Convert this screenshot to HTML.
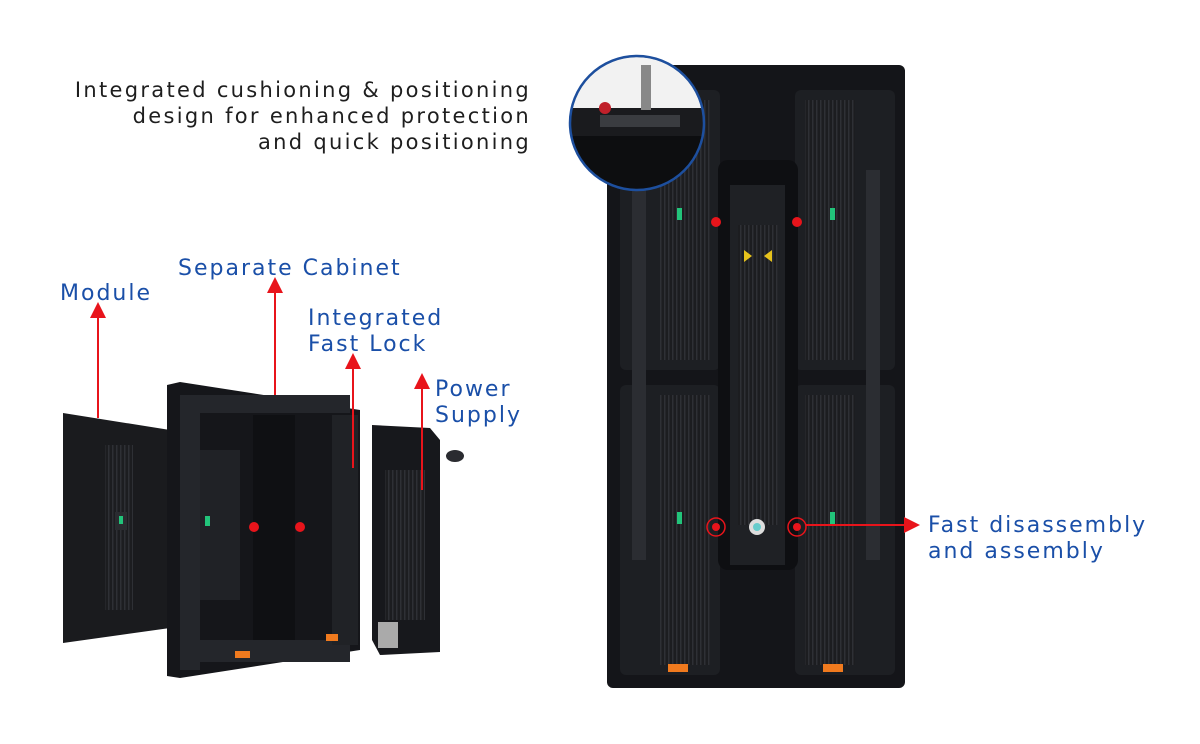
<!DOCTYPE html>
<html><head><meta charset="utf-8"><style>
html,body{margin:0;padding:0;background:#fff;}
svg{display:block}
text{font-family:"DejaVu Sans","Liberation Sans",sans-serif;}
.t{font-size:21px;fill:#1e1e1e;letter-spacing:2.3px}
.b{font-size:22px;fill:#1a4fa8;letter-spacing:2px}
</style></head><body>
<svg width="1200" height="744" viewBox="0 0 1200 744" xmlns="http://www.w3.org/2000/svg">
<defs>
<marker id="ar" markerWidth="8" markerHeight="8" refX="4" refY="4" orient="auto"><path d="M0,0 L8,4 L0,8 z" fill="#e8141b"/></marker>
<pattern id="rib" width="4" height="4" patternUnits="userSpaceOnUse"><rect width="4" height="4" fill="#1c1d20"/><rect width="1.5" height="4" fill="#2e3035"/></pattern>
<clipPath id="cc"><circle cx="637" cy="123" r="66"/></clipPath>
</defs>
<text class="t" x="531" y="97" text-anchor="end">Integrated cushioning &amp; positioning</text>
<text class="t" x="531" y="123" text-anchor="end">design for enhanced protection</text>
<text class="t" x="531" y="149" text-anchor="end">and quick positioning</text>

<!-- left assembly -->
<polygon points="63,413 170,430 170,628 63,643" fill="#1a1b1e"/>
<rect x="105" y="445" width="28" height="165" fill="url(#rib)"/>
<rect x="115" y="512" width="12" height="18" fill="#2a2c30"/><rect x="119" y="516" width="4" height="8" fill="#22c47a"/>
<polygon points="167,385 180,382 360,410 360,650 180,678 167,676" fill="#15161a"/>
<rect x="180" y="395" width="20" height="275" fill="#24262b"/>
<rect x="180" y="395" width="170" height="18" fill="#24262b"/>
<rect x="180" y="640" width="170" height="22" fill="#24262b"/>
<rect x="200" y="450" width="40" height="150" fill="#202226"/>
<rect x="253" y="415" width="42" height="225" fill="#0f1013"/>
<rect x="332" y="415" width="26" height="230" fill="#202226"/>
<circle cx="254" cy="527" r="5" fill="#e8141b"/><circle cx="300" cy="527" r="5" fill="#e8141b"/>
<rect x="235" y="651" width="15" height="7" fill="#f07a1e"/><rect x="326" y="634" width="12" height="7" fill="#f07a1e"/>
<rect x="205" y="516" width="5" height="10" fill="#22c47a"/>
<polygon points="372,425 430,428 440,440 440,652 380,655 372,640" fill="#17181c"/>
<rect x="385" y="470" width="40" height="150" fill="url(#rib)"/>
<rect x="378" y="622" width="20" height="26" fill="#aaa"/>
<ellipse cx="455" cy="456" rx="9" ry="6" fill="#2a2b30"/>

<text class="b" x="60" y="300">Module</text>
<text class="b" x="178" y="275">Separate Cabinet</text>
<text class="b" x="308" y="325">Integrated</text>
<text class="b" x="308" y="351">Fast Lock</text>
<text class="b" x="435" y="396">Power</text>
<text class="b" x="435" y="422">Supply</text>
<g stroke="#e8141b" stroke-width="2" fill="none" marker-end="url(#ar)">
<line x1="98" y1="418" x2="98" y2="310"/>
<line x1="275" y1="395" x2="275" y2="285"/>
<line x1="353" y1="468" x2="353" y2="361"/>
<line x1="422" y1="490" x2="422" y2="381"/>
</g>

<!-- right cabinet -->
<rect x="607" y="65" width="298" height="623" rx="6" fill="#141519"/>
<rect x="620" y="90" width="100" height="280" rx="6" fill="#1d1f23"/>
<rect x="795" y="90" width="100" height="280" rx="6" fill="#1d1f23"/>
<rect x="620" y="385" width="100" height="290" rx="6" fill="#1d1f23"/>
<rect x="795" y="385" width="100" height="290" rx="6" fill="#1d1f23"/>
<rect x="660" y="100" width="50" height="260" fill="url(#rib)"/>
<rect x="805" y="100" width="50" height="260" fill="url(#rib)"/>
<rect x="660" y="395" width="50" height="270" fill="url(#rib)"/>
<rect x="805" y="395" width="50" height="270" fill="url(#rib)"/>
<rect x="632" y="170" width="14" height="390" fill="#2b2d32"/>
<rect x="866" y="170" width="14" height="390" fill="#2b2d32"/>
<rect x="718" y="160" width="80" height="410" rx="10" fill="#0e0f12"/>
<rect x="730" y="185" width="55" height="380" fill="#1f2125"/>
<rect x="738" y="225" width="40" height="300" fill="url(#rib)"/>
<polygon points="744,250 752,256 744,262" fill="#e6c21c"/><polygon points="772,250 764,256 772,262" fill="#e6c21c"/>
<circle cx="757" cy="527" r="8" fill="#ddd"/><circle cx="757" cy="527" r="4" fill="#6cc"/>
<circle cx="716" cy="222" r="5" fill="#e8141b"/><circle cx="797" cy="222" r="5" fill="#e8141b"/>
<circle cx="716" cy="527" r="4" fill="#e8141b"/><circle cx="797" cy="527" r="4" fill="#e8141b"/>
<circle cx="716" cy="527" r="9" fill="none" stroke="#e8141b" stroke-width="1.5"/>
<circle cx="797" cy="527" r="9" fill="none" stroke="#e8141b" stroke-width="1.5"/>
<rect x="677" y="208" width="5" height="12" fill="#22c47a"/><rect x="830" y="208" width="5" height="12" fill="#22c47a"/>
<rect x="677" y="512" width="5" height="12" fill="#22c47a"/><rect x="830" y="512" width="5" height="12" fill="#22c47a"/>
<rect x="668" y="664" width="20" height="8" fill="#f07a1e"/><rect x="823" y="664" width="20" height="8" fill="#f07a1e"/>
<line x1="806" y1="525" x2="912" y2="525" stroke="#e8141b" stroke-width="2" marker-end="url(#ar)"/>
<text class="b" x="928" y="532">Fast disassembly</text>
<text class="b" x="928" y="558">and assembly</text>

<!-- inset circle -->
<circle cx="637" cy="123" r="67" fill="#2a2b2f"/>
<g clip-path="url(#cc)">
<rect x="560" y="50" width="160" height="60" fill="#f2f2f2"/>
<rect x="560" y="108" width="160" height="28" fill="#1a1b1e"/>
<rect x="600" y="115" width="80" height="12" fill="#3a3c40"/>
<rect x="560" y="136" width="160" height="60" fill="#0d0e10"/>
<rect x="641" y="65" width="10" height="45" fill="#888"/>
<circle cx="605" cy="108" r="6" fill="#c0202a"/>
</g>
<circle cx="637" cy="123" r="67" fill="none" stroke="#1d4f9e" stroke-width="2.5"/>
</svg>
</body></html>
